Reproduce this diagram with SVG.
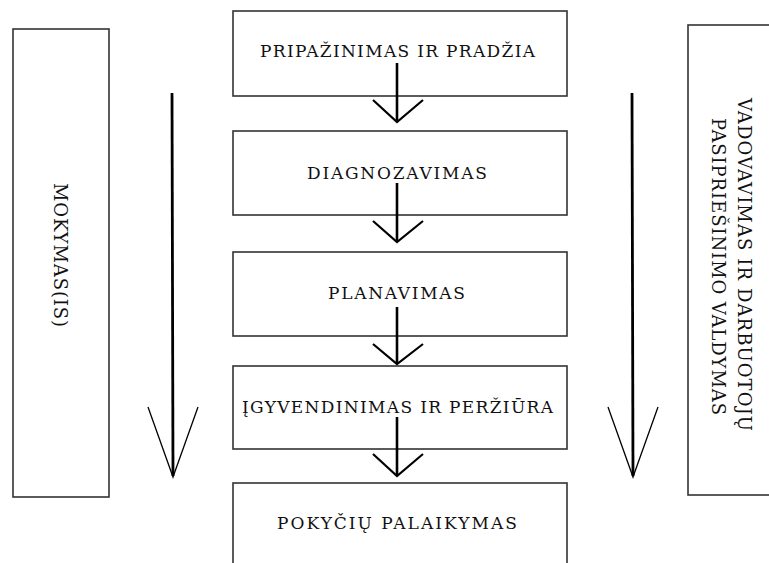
<svg xmlns="http://www.w3.org/2000/svg" width="769" height="563" viewBox="0 0 769 563">
<style>
.box{fill:#fff;stroke:#333;stroke-width:1.6}
.t{font-family:"DejaVu Serif","Liberation Serif",serif;font-size:17px;fill:#111}
.ts{font-family:"DejaVu Serif","Liberation Serif",serif;font-size:18px;fill:#111}
.shaft{stroke:#000;stroke-width:2.6;fill:none}
.wing{stroke:#000;stroke-width:2.2;fill:none;stroke-linejoin:miter}
.lshaft{stroke:#000;stroke-width:2.8;fill:none}
.lwing{stroke:#000;stroke-width:1.3;fill:none}
</style>
<rect width="769" height="563" fill="#fff"/>
<g id="node-mokymas">
<rect class="box" x="13" y="29" width="96" height="468"/>
<text class="ts" transform="translate(54,183) rotate(90)" textLength="144" lengthAdjust="spacing">MOKYMAS(IS)</text>
</g>
<g id="node-vadovavimas">
<rect class="box" x="688" y="25" width="100" height="470"/>
<text class="ts" transform="translate(738,98) rotate(90)" textLength="333" lengthAdjust="spacing">VADOVAVIMAS IR DARBUOTOJŲ</text>
<text class="ts" transform="translate(712,118) rotate(90)" textLength="297" lengthAdjust="spacing">PASIPRIEŠINIMO VALDYMAS</text>
</g>
<g id="node-pripazinimas">
<rect class="box" x="233" y="11" width="334" height="85"/>
<text class="t" x="397.5" y="57" text-anchor="middle" textLength="275" lengthAdjust="spacing">PRIPAŽINIMAS IR PRADŽIA</text>
</g>
<g id="node-diagnozavimas">
<rect class="box" x="233" y="131" width="334" height="84"/>
<text class="t" x="397" y="179" text-anchor="middle" textLength="180" lengthAdjust="spacing">DIAGNOZAVIMAS</text>
</g>
<g id="node-planavimas">
<rect class="box" x="233" y="252" width="334" height="84"/>
<text class="t" x="396.5" y="299" text-anchor="middle" textLength="137" lengthAdjust="spacing">PLANAVIMAS</text>
</g>
<g id="node-igyvendinimas">
<rect class="box" x="233" y="366" width="334" height="83"/>
<text class="t" x="397.5" y="413" text-anchor="middle" textLength="311" lengthAdjust="spacing">ĮGYVENDINIMAS IR PERŽIŪRA</text>
</g>
<g id="node-palaikymas">
<rect class="box" x="233" y="483" width="334" height="90"/>
<text class="t" x="397" y="529" text-anchor="middle" textLength="240" lengthAdjust="spacing">POKYČIŲ PALAIKYMAS</text>
</g>
<g id="connectors">
<line class="shaft" x1="397" y1="63" x2="397" y2="122"/>
<polyline class="wing" points="373,100 397,122 423,100"/>
<line class="shaft" x1="397" y1="183" x2="397" y2="242"/>
<polyline class="wing" points="373,221 397,242 423,221"/>
<line class="shaft" x1="397" y1="307" x2="397" y2="364"/>
<polyline class="wing" points="373,344 397,364 423,344"/>
<line class="shaft" x1="397" y1="417" x2="397" y2="476"/>
<polyline class="wing" points="373,454 397,476 423,454"/>
<line class="lshaft" x1="172" y1="93" x2="173" y2="476"/>
<polyline class="lwing" points="148,407 173,477 198,407"/>
<line class="lshaft" x1="632" y1="93" x2="633" y2="476"/>
<polyline class="lwing" points="608,407 633,477 658,407"/>
</g>
</svg>
